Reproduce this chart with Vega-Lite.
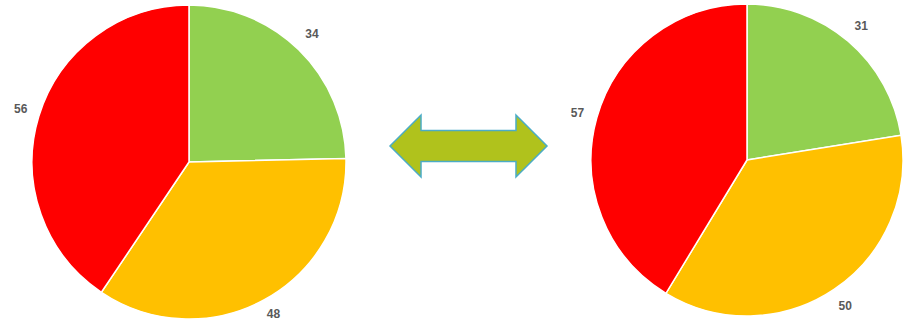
{
  "$schema": "https://vega.github.io/schema/vega-lite/v6.json",
  "padding": 0,
  "spacing": 0,
  "bounds": "flush",
  "background": "white",
  "config": {"view": {"stroke": null}, "concat": {"spacing": 0}},
  "datasets": {
    "before": [
      {"status": "green", "rank": 1, "value": 34},
      {"status": "amber", "rank": 2, "value": 48},
      {"status": "red", "rank": 3, "value": 56}
    ],
    "after": [
      {"status": "green", "rank": 1, "value": 31},
      {"status": "amber", "rank": 2, "value": 50},
      {"status": "red", "rank": 3, "value": 57}
    ],
    "arrow": [{"item": "change"}]
  },
  "hconcat": [
    {
      "width": 378,
      "height": 320,
      "data": {"name": "before"},
      "encoding": {
        "theta": {"field": "value", "type": "quantitative", "stack": true},
        "order": {"field": "rank", "type": "quantitative"}
      },
      "layer": [
        {
          "mark": {"type": "arc", "outerRadius": 157, "stroke": "white", "strokeWidth": 1.5, "yOffset": 2},
          "encoding": {
            "color": {"field": "status", "type": "nominal", "scale": {"domain": ["green", "amber", "red"], "range": ["#92d050", "#ffc000", "#ff0000"]}, "legend": null}
          }
        },
        {
          "mark": {"type": "text", "radius": 176, "fontSize": 12, "fontWeight": "bold", "font": "Liberation Sans", "color": "#595959"},
          "encoding": {"text": {"field": "value", "type": "quantitative"}}
        }
      ]
    },
    {
      "width": 212,
      "height": 320,
      "data": {"name": "arrow"},
      "mark": {
        "type": "point",
        "shape": "M -1 0 L -0.605 -0.395 L -0.605 -0.197 L 0.605 -0.197 L 0.605 -0.395 L 1 0 L 0.605 0.395 L 0.605 0.197 L -0.605 0.197 L -0.605 0.395 Z",
        "size": 24649,
        "filled": true,
        "fill": "#b0c21c",
        "stroke": "#4bacc6",
        "strokeWidth": 1.5,
        "opacity": 1,
        "xOffset": -15.5,
        "yOffset": -14
      },
      "encoding": {}
    },
    {
      "width": 314,
      "height": 320,
      "data": {"name": "after"},
      "encoding": {
        "theta": {"field": "value", "type": "quantitative", "stack": true},
        "order": {"field": "rank", "type": "quantitative"}
      },
      "layer": [
        {
          "mark": {"type": "arc", "outerRadius": 156, "stroke": "white", "strokeWidth": 1.5},
          "encoding": {
            "color": {"field": "status", "type": "nominal", "scale": {"domain": ["green", "amber", "red"], "range": ["#92d050", "#ffc000", "#ff0000"]}, "legend": null}
          }
        },
        {
          "mark": {"type": "text", "radius": 176, "fontSize": 12, "fontWeight": "bold", "font": "Liberation Sans", "color": "#595959"},
          "encoding": {"text": {"field": "value", "type": "quantitative"}}
        }
      ]
    }
  ]
}
